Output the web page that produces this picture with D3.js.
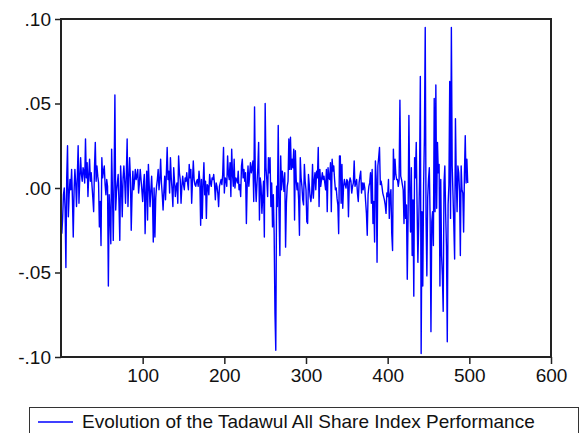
<!DOCTYPE html>
<html>
<head>
<meta charset="utf-8">
<script src="https://cdn.jsdelivr.net/npm/d3@7"></script>
<style>
  body { margin: 0; background: #fff; }
  text { font-family: Arial, "Liberation Sans", sans-serif; }
</style>
</head>
<body>
<div id="chart"></div>
<script>
// Daily returns of the Tadawul All Share Index (obs 1..498)
const returns = [
    -0.027, -0.018, -0.004, 0.000, -0.012, -0.047, 0.006, 0.025, -0.017, -0.004,
    0.005, -0.001, 0.011, -0.006, -0.029, -0.002, 0.011, 0.003, -0.011, 0.007,
    0.025, -0.009, 0.006, 0.018, 0.008, 0.004, 0.012, 0.010, 0.003, 0.029,
    0.006, 0.015, -0.005, 0.008, 0.017, 0.004, 0.009, 0.001, -0.006, -0.014,
    0.012, 0.027, 0.004, 0.013, 0.007, 0.003, -0.023, -0.008, -0.034, 0.018,
    0.006, 0.010, 0.013, 0.002, -0.004, 0.005, 0.001, -0.058, -0.004, -0.015,
    -0.033, 0.023, -0.002, -0.031, 0.004, 0.055, -0.013, -0.002, 0.003, 0.008,
    -0.009, -0.031, 0.013, 0.002, -0.017, 0.006, 0.013, 0.004, -0.009, 0.008,
    0.029, -0.011, 0.005, 0.018, 0.006, -0.025, -0.004, 0.010, -0.001, 0.004,
    0.011, 0.005, 0.007, 0.011, -0.003, 0.003, 0.011, 0.005, -0.001, -0.008,
    0.002, 0.008, -0.027, -0.003, 0.010, -0.019, 0.014, 0.002, -0.011, -0.002,
    0.007, -0.006, -0.032, 0.000, -0.029, -0.006, 0.001, 0.005, 0.011, -0.001,
    0.005, 0.017, 0.003, -0.004, -0.013, -0.002, 0.007, -0.007, 0.008, 0.024,
    0.005, 0.010, -0.003, 0.018, 0.006, -0.001, -0.011, 0.012, 0.004, -0.005,
    0.001, 0.003, -0.009, 0.019, 0.009, 0.005, -0.009, 0.001, 0.007, 0.002,
    -0.001, 0.006, 0.004, 0.009, 0.003, -0.001, 0.014, 0.006, 0.011, -0.009,
    0.004, 0.016, 0.005, 0.002, 0.001, 0.004, 0.005, 0.001, 0.010, 0.004,
    -0.022, 0.005, -0.018, 0.003, 0.015, -0.004, 0.004, -0.018, 0.002, 0.001,
    -0.004, 0.008, 0.003, 0.001, 0.006, 0.005, 0.008, 0.002, -0.007, 0.003,
    0.001, -0.003, -0.011, 0.001, 0.003, 0.005, 0.002, 0.008, 0.024, -0.003,
    0.006, 0.005, 0.001, 0.019, 0.008, 0.005, 0.015, -0.005, 0.023, 0.008,
    0.001, 0.017, 0.000, 0.006, 0.005, 0.003, 0.010, -0.001, 0.002, -0.005,
    0.013, 0.017, 0.006, 0.011, 0.004, 0.009, -0.021, 0.002, 0.013, 0.001,
    0.008, 0.015, 0.009, 0.012, 0.016, -0.008, 0.048, 0.004, -0.008, 0.003,
    0.012, 0.027, -0.019, 0.006, 0.001, -0.015, -0.005, 0.004, -0.029, 0.050,
    0.012, 0.005, -0.005, 0.018, 0.009, 0.018, -0.011, 0.003, -0.023, -0.004,
    -0.027, -0.074, -0.096, 0.001, -0.011, 0.037, -0.014, -0.040, 0.019, -0.001,
    0.010, 0.005, -0.002, 0.009, -0.035, -0.009, 0.001, 0.004, 0.029, 0.011,
    0.030, 0.011, 0.017, 0.012, 0.023, -0.019, 0.022, 0.005, -0.001, 0.003,
    -0.007, -0.028, 0.018, 0.006, 0.001, -0.007, -0.010, 0.014, 0.004, -0.001,
    -0.020, -0.021, 0.008, 0.002, -0.005, -0.008, -0.003, 0.014, -0.006, 0.004,
    0.009, -0.001, 0.010, 0.006, 0.024, -0.011, 0.011, 0.001, 0.005, 0.009,
    0.005, 0.007, 0.003, -0.001, 0.011, -0.014, 0.012, 0.006, 0.005, 0.015,
    -0.014, 0.017, 0.010, 0.013, 0.005, -0.001, 0.000, -0.006, -0.010, -0.027,
    0.019, 0.019, -0.009, 0.014, -0.012, 0.001, 0.005, 0.002, 0.000, 0.005,
    0.004, -0.017, 0.003, 0.006, 0.004, -0.003, 0.001, 0.003, 0.016, 0.001,
    0.003, 0.005, -0.003, -0.008, 0.003, 0.007, 0.010, -0.003, 0.003, -0.001,
    0.003, 0.000, -0.008, -0.015, -0.028, -0.004, 0.001, 0.003, 0.009, -0.009,
    0.011, -0.021, -0.008, -0.032, 0.016, 0.005, -0.044, 0.013, 0.018, 0.024,
    0.002, 0.004, 0.001, -0.003, -0.005, -0.007, -0.010, -0.015, -0.003, -0.005,
    0.005, -0.018, -0.004, -0.001, -0.027, -0.037, 0.023, 0.005, 0.017, 0.008,
    0.005, 0.005, 0.001, 0.005, 0.052, 0.007, 0.005, 0.002, -0.001, -0.021,
    0.004, -0.018, -0.010, -0.054, -0.018, 0.043, -0.001, -0.026, 0.012, -0.040,
    -0.007, -0.064, 0.018, 0.006, 0.027, -0.010, -0.044, -0.022, 0.004, 0.066,
    -0.098, -0.014, -0.058, 0.001, 0.030, 0.095, -0.018, -0.052, -0.006, 0.005,
    0.012, -0.018, -0.085, -0.020, -0.014, -0.034, 0.053, -0.014, 0.061, -0.012,
    0.027, 0.009, 0.014, -0.058, 0.005, -0.040, -0.052, -0.073, 0.003, 0.013,
    -0.015, -0.035, -0.091, -0.010, 0.002, 0.063, -0.018, 0.095, 0.013, -0.004,
    -0.022, -0.042, 0.041, 0.006, -0.014, 0.013, 0.009, -0.002, -0.040, 0.013,
    -0.001, -0.003, -0.026, 0.008, 0.031, 0.003, 0.017, 0.003
];
const xTicks = [100, 200, 300, 400, 500, 600];
const yTicks = [-0.10, -0.05, 0.00, 0.05, 0.10];
const yTickLabels = ["-.10", "-.05", ".00", ".05", ".10"];
const legendLabel = "Evolution of the Tadawul All Share Index Performance";

function renderChart() {
    const width = 587;
    const height = 433;
    const left = 61, right = 551, top = 19, bottom = 357;

    const svg = d3.select("#chart").append("svg")
        .attr("width", width)
        .attr("height", height);

    const x = d3.scaleLinear().domain([0, 600]).range([left, right]);
    const y = d3.scaleLinear().domain([-0.10, 0.10]).range([bottom, top]);

    // series line
    const line = d3.line()
        .x((d, i) => x(i + 1))
        .y(d => y(d));

    svg.append("path")
        .datum(returns)
        .attr("fill", "none")
        .attr("stroke", "#0000ff")
        .attr("stroke-width", 1.4)
        .attr("stroke-linejoin", "round")
        .attr("d", line);

    // axes
    const yAxis = svg.append("g")
        .attr("transform", `translate(${left},0)`)
        .call(d3.axisLeft(y)
            .tickValues(yTicks)
            .tickFormat((d, i) => yTickLabels[i])
            .tickSize(6)
            .tickPadding(4));

    const xAxis = svg.append("g")
        .attr("transform", `translate(0,${bottom})`)
        .call(d3.axisBottom(x)
            .tickValues(xTicks)
            .tickSize(7)
            .tickPadding(5));

    [xAxis, yAxis].forEach(g => {
        g.select(".domain").remove();
        g.selectAll(".tick line").attr("stroke", "#222").attr("stroke-width", 1.5);
        g.selectAll(".tick text")
            .attr("fill", "#111")
            .attr("font-size", "19px")
            .attr("font-family", "Arial, 'Liberation Sans', sans-serif");
    });

    // plot frame
    svg.append("rect")
        .attr("x", left)
        .attr("y", top)
        .attr("width", right - left)
        .attr("height", bottom - top)
        .attr("fill", "none")
        .attr("stroke", "#222")
        .attr("stroke-width", 2);

    // legend
    svg.append("rect")
        .attr("x", 29.5)
        .attr("y", 407.5)
        .attr("width", 549)
        .attr("height", 40)
        .attr("fill", "none")
        .attr("stroke", "#333")
        .attr("stroke-width", 1);

    svg.append("line")
        .attr("x1", 38)
        .attr("x2", 73)
        .attr("y1", 422)
        .attr("y2", 422)
        .attr("stroke", "#0000ff")
        .attr("stroke-width", 1.5);

    svg.append("text")
        .attr("x", 82)
        .attr("y", 428)
        .attr("fill", "#111")
        .attr("font-size", "19px")
        .text(legendLabel);
}

renderChart();
</script>
</body>
</html>
